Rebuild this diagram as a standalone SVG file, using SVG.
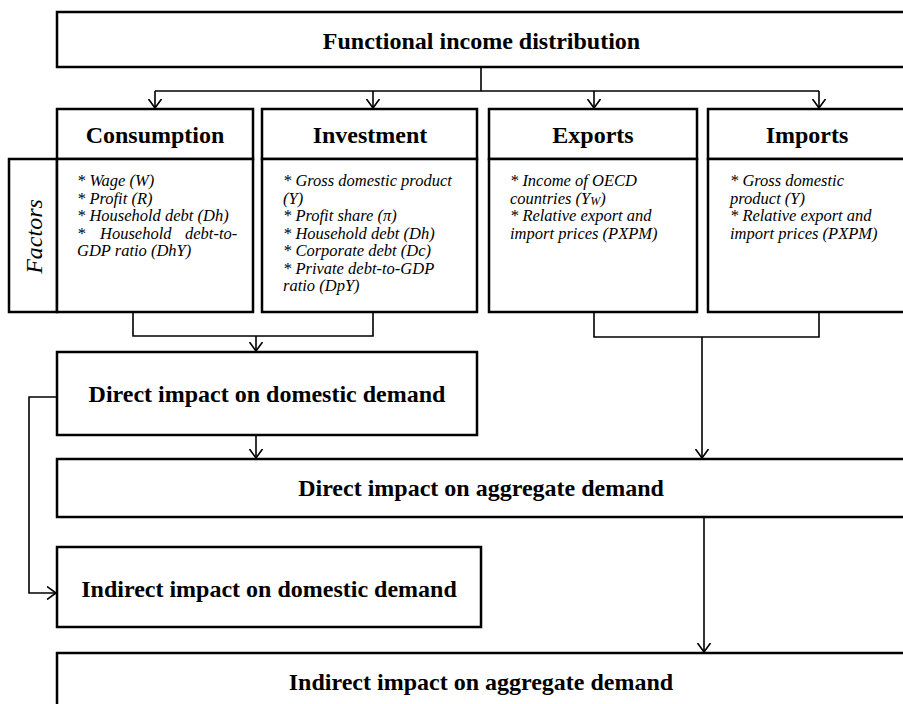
<svg xmlns="http://www.w3.org/2000/svg" width="903" height="704" viewBox="0 0 903 704">
  <style>
    .box { fill: #ffffff; stroke: #000000; stroke-width: 2.5; }
    .conn { fill: none; stroke: #000000; stroke-width: 1.6; }
    .title { font-family: "Liberation Serif", "Times New Roman", serif; font-weight: bold; font-size: 24px; fill: #000000; text-anchor: middle; }
    .item { font-family: "Liberation Serif", "Times New Roman", serif; font-style: italic; font-size: 16.5px; fill: #000000; }
    .side { font-family: "Liberation Serif", "Times New Roman", serif; font-style: italic; font-size: 24px; fill: #000000; text-anchor: middle; }
  </style>
  <defs>
    <marker id="arrow" viewBox="0 0 10 14" refX="9" refY="7" markerWidth="10" markerHeight="14" markerUnits="userSpaceOnUse" orient="auto">
      <path d="M0,0.5 L9,7 L0,13.5" fill="none" stroke="#000000" stroke-width="1.6"/>
    </marker>
  </defs>

  <rect width="903" height="704" fill="#ffffff"/>

  <!-- connectors -->
  <g id="connectors" class="conn">
    <path d="M481,67 V91 M155,91 H819"/>
    <path d="M155,91 V108" marker-end="url(#arrow)"/>
    <path d="M373,91 V108" marker-end="url(#arrow)"/>
    <path d="M594,91 V108" marker-end="url(#arrow)"/>
    <path d="M819,91 V108" marker-end="url(#arrow)"/>
    <path d="M133,312 V336 H373 V312"/>
    <path d="M256,336 V351" marker-end="url(#arrow)"/>
    <path d="M594,312 V337 H819 V312"/>
    <path d="M702,337 V458" marker-end="url(#arrow)"/>
    <path d="M256,435 V458" marker-end="url(#arrow)"/>
    <path d="M57,397 H29 V593 H56" marker-end="url(#arrow)"/>
    <path d="M704,517 V652" marker-end="url(#arrow)"/>
  </g>

  <!-- top node -->
  <g id="functional-income">
    <rect class="box" x="57" y="12" width="849" height="55"/>
    <text class="title" x="481.5" y="49">Functional income distribution</text>
  </g>

  <!-- side label -->
  <g id="factors">
    <rect class="box" x="9" y="159" width="48" height="153"/>
    <text class="side" transform="translate(42,236.5) rotate(-90)">Factors</text>
  </g>

  <g id="consumption">
    <rect class="box" x="57" y="109" width="196" height="50"/>
    <rect class="box" x="57" y="159" width="196" height="153"/>
    <text class="title" x="155" y="143">Consumption</text>
    <text class="item">
      <tspan x="77" y="186">* Wage (W)</tspan>
      <tspan x="77" y="203.5">* Profit (R)</tspan>
      <tspan x="77" y="221">* Household debt (Dh)</tspan>
      <tspan x="77" y="238.5">*</tspan><tspan x="100" y="238.5">Household</tspan><tspan x="185" y="238.5">debt-to-</tspan>
      <tspan x="77" y="256">GDP ratio (DhY)</tspan>
    </text>
  </g>

  <g id="investment">
    <rect class="box" x="262" y="109" width="215" height="50"/>
    <rect class="box" x="262" y="159" width="215" height="153"/>
    <text class="title" x="370" y="143">Investment</text>
    <text class="item">
      <tspan x="283" y="186">* Gross domestic product</tspan>
      <tspan x="283" y="203.5">(Y)</tspan>
      <tspan x="283" y="221">* Profit share (π)</tspan>
      <tspan x="283" y="238.5">* Household debt (Dh)</tspan>
      <tspan x="283" y="256">* Corporate debt (Dc)</tspan>
      <tspan x="283" y="273.5">* Private debt-to-GDP</tspan>
      <tspan x="283" y="291">ratio (DpY)</tspan>
    </text>
  </g>

  <g id="exports">
    <rect class="box" x="489" y="109" width="208" height="50"/>
    <rect class="box" x="489" y="159" width="208" height="153"/>
    <text class="title" x="593" y="143">Exports</text>
    <text class="item">
      <tspan x="510" y="186">* Income of OECD</tspan>
      <tspan x="510" y="203.5">countries (Y</tspan><tspan font-size="12" dy="1.5">W</tspan><tspan dy="-1.5">)</tspan>
      <tspan x="510" y="221">* Relative export and</tspan>
      <tspan x="510" y="238.5">import prices (PXPM)</tspan>
    </text>
  </g>

  <g id="imports">
    <rect class="box" x="708" y="109" width="198" height="50"/>
    <rect class="box" x="708" y="159" width="198" height="153"/>
    <text class="title" x="807" y="143">Imports</text>
    <text class="item">
      <tspan x="730" y="186">* Gross domestic</tspan>
      <tspan x="730" y="203.5">product (Y)</tspan>
      <tspan x="730" y="221">* Relative export and</tspan>
      <tspan x="730" y="238.5">import prices (PXPM)</tspan>
    </text>
  </g>

  <g id="direct-domestic">
    <rect class="box" x="57" y="352" width="420" height="83"/>
    <text class="title" x="267" y="402">Direct impact on domestic demand</text>
  </g>

  <g id="direct-aggregate">
    <rect class="box" x="57" y="459" width="849" height="58"/>
    <text class="title" x="481" y="496">Direct impact on aggregate demand</text>
  </g>

  <g id="indirect-domestic">
    <rect class="box" x="57" y="547" width="424" height="80"/>
    <text class="title" x="269" y="597">Indirect impact on domestic demand</text>
  </g>

  <g id="indirect-aggregate">
    <rect class="box" x="57" y="653" width="849" height="60"/>
    <text class="title" x="481" y="690">Indirect impact on aggregate demand</text>
  </g>
</svg>
